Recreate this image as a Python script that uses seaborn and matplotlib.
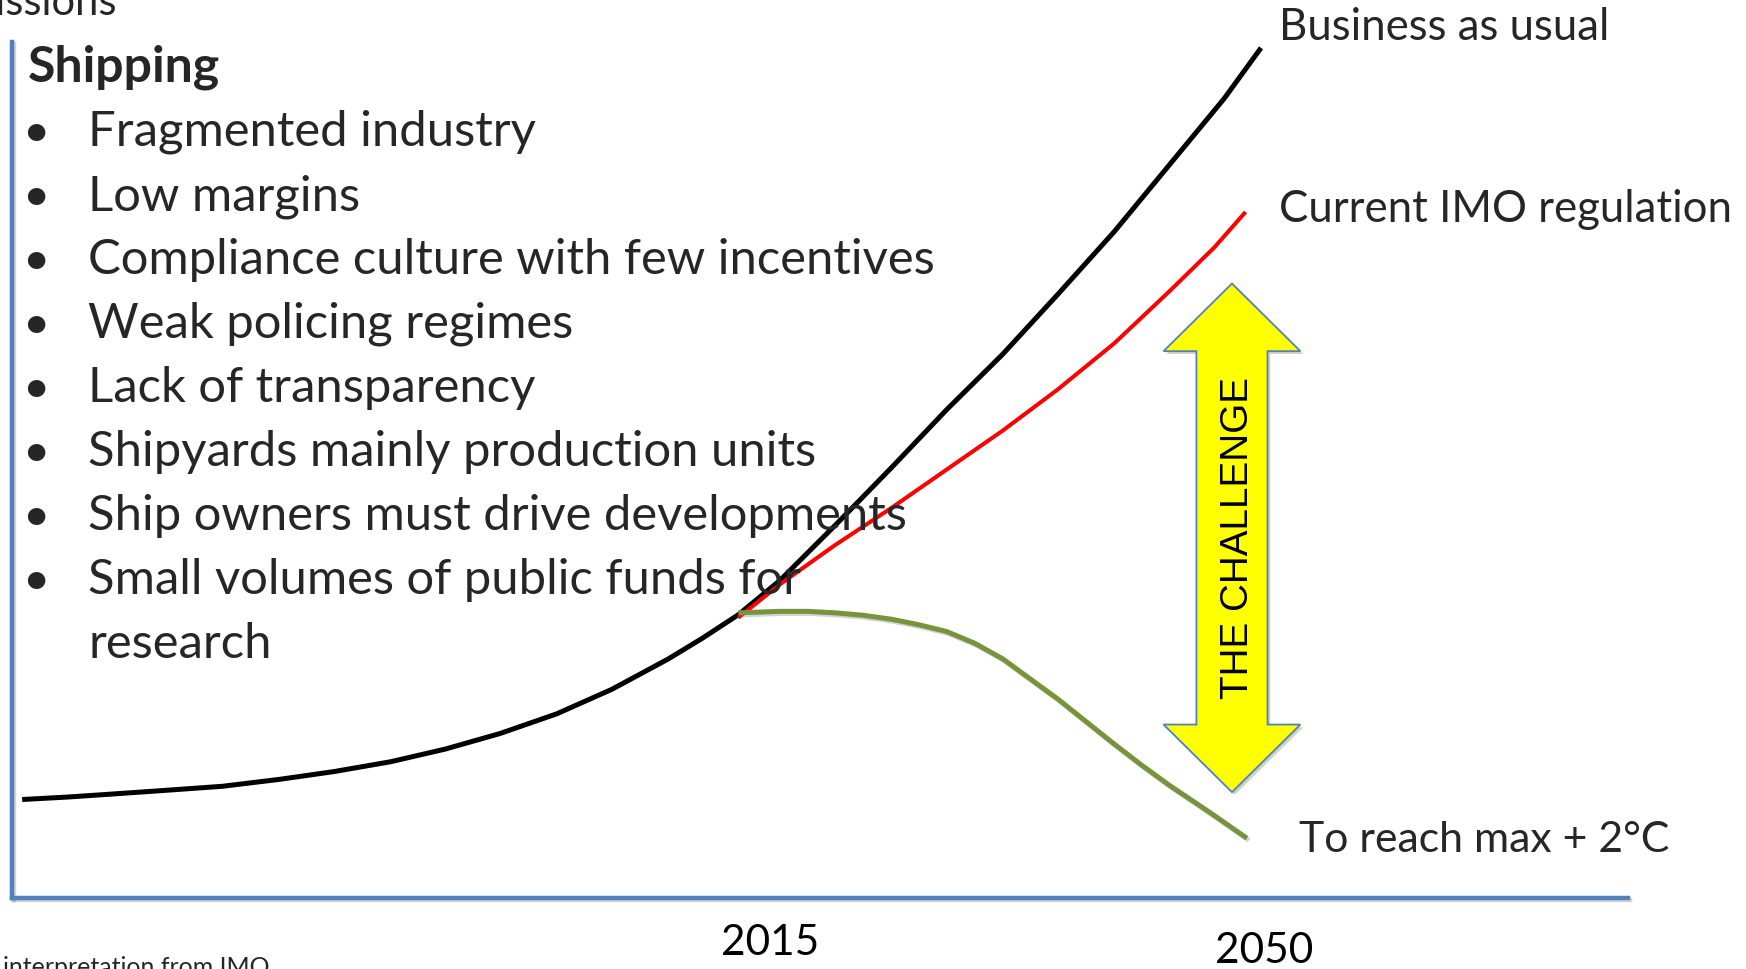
import numpy as np
import pandas as pd
import matplotlib
matplotlib.use('Agg')
import matplotlib.pyplot as plt
import matplotlib.patheffects as pe
from matplotlib.patches import Polygon
from matplotlib.transforms import ScaledTranslation
import seaborn as sns

# ==================== data (year, emissions index) ====================
bau_years = [1962.0, 1965.2, 1968.3, 1972.3, 1976.2, 1980.2, 1984.1, 1988.1, 1992.0, 1995.9,
             1999.9, 2003.8, 2007.8, 2010.2, 2012.75, 2015.7, 2019.6, 2023.6, 2027.5, 2031.5,
             2035.4, 2039.4, 2043.3, 2047.2, 2049.8]
bau = [10.05, 10.3, 10.6, 11.0, 11.4, 12.1, 12.9, 13.9, 15.2, 16.8,
       18.8, 21.3, 24.4, 26.5, 28.9, 32.4, 38.0, 43.9, 49.8, 55.5,
       61.6, 68.0, 74.8, 81.6, 86.75]

imo_years = [2012.75, 2015.7, 2019.6, 2023.6, 2027.5, 2031.5, 2035.4, 2039.4, 2043.3, 2046.5, 2048.7]
imo = [28.6, 32.0, 36.0, 39.8, 43.7, 47.7, 51.9, 56.6, 61.9, 66.4, 70.0]

two_deg_years = [2012.75, 2015.7, 2017.7, 2019.6, 2021.6, 2023.6, 2025.5, 2027.5, 2029.5,
                 2031.5, 2033.4, 2035.4, 2037.4, 2039.4, 2041.3, 2043.3, 2046.1, 2048.8]
two_deg = [29.1, 29.25, 29.25, 29.1, 28.85, 28.45, 27.9, 27.2, 26.0,
           24.4, 22.4, 20.3, 18.0, 15.7, 13.6, 11.5, 8.8, 6.1]

tick_years = [2015, 2050]
tick_labels = ['2015', '2050']

series_labels = ['Business as usual', 'Current IMO regulation', 'To reach max + 2°C']
series_colors = ['black', '#FF0000', '#77933C']

box_title = 'Shipping'
bullets = ['Fragmented industry',
           'Low margins',
           'Compliance culture with few incentives',
           'Weak policing regimes',
           'Lack of transparency',
           'Shipyards mainly production units',
           'Ship owners must drive developments',
           'Small volumes of public funds for\nresearch']

# arrow "THE CHALLENGE" (data units)
arrow_x = 2047.74
arrow_top, arrow_bottom = 62.7, 10.8
arrow_head_len = 6.9
arrow_shaft_half, arrow_head_half = 2.52, 4.85

# ==================== figure ====================
sns.set_theme(style='white')
plt.rcParams['font.family'] = ['Lato', 'DejaVu Sans']

W, H = 1746, 969
fig = plt.figure(figsize=(W / 100, H / 100), dpi=100)
ax = fig.add_axes([0, 0, 1, 1])
ax.set_xlim(1960.43, 2084.17)
ax.set_ylim(-7.245, 91.633)


def frac(x, y):
    # pixel position -> axes fraction
    return x / W, 1 - y / H


shadow = [pe.SimpleLineShadow(offset=(1.5, -1.5), shadow_color='gray', alpha=0.35), pe.Normal()]

sns.lineplot(x=bau_years, y=bau, ax=ax, color=series_colors[0], linewidth=3.6, legend=False)
sns.lineplot(x=imo_years, y=imo, ax=ax, color=series_colors[1], linewidth=2.9, legend=False)
sns.lineplot(x=two_deg_years, y=two_deg, ax=ax, color=series_colors[2], linewidth=3.6, legend=False)
ax.lines[2].set_path_effects(shadow)
for ln in ax.lines:
    ln.set_solid_capstyle('butt')
    ln.set_solid_joinstyle('round')

# axes as the blue frame
for s in ['top', 'right']:
    ax.spines[s].set_visible(False)
ax.spines['left'].set_position(('data', 1961.28))
ax.spines['left'].set_bounds(0, 87.35)
ax.spines['bottom'].set_position(('data', 0))
ax.spines['bottom'].set_bounds(1961.28, 2075.8)
for s in ['left', 'bottom']:
    ax.spines[s].set_color('#4F81BD')
    ax.spines[s].set_linewidth(3.2)
    ax.spines[s].set_path_effects(shadow)
ax.set_facecolor('white')

ax.set_yticks([])
ax.set_xticks(tick_years)
ax.set_xticklabels(tick_labels)
ax.tick_params(axis='x', length=0, pad=19, labelsize=30.5, labelcolor='black')
lbl = ax.get_xticklabels()[1]
lbl.set_transform(lbl.get_transform() + ScaledTranslation(0, -0.08, fig.dpi_scale_trans))

# double headed arrow
a_pts = [(arrow_x, arrow_top),
         (arrow_x + arrow_head_half, arrow_top - arrow_head_len),
         (arrow_x + arrow_shaft_half, arrow_top - arrow_head_len),
         (arrow_x + arrow_shaft_half, arrow_bottom + arrow_head_len),
         (arrow_x + arrow_head_half, arrow_bottom + arrow_head_len),
         (arrow_x, arrow_bottom),
         (arrow_x - arrow_head_half, arrow_bottom + arrow_head_len),
         (arrow_x - arrow_shaft_half, arrow_bottom + arrow_head_len),
         (arrow_x - arrow_shaft_half, arrow_top - arrow_head_len),
         (arrow_x - arrow_head_half, arrow_top - arrow_head_len)]
ax.add_patch(Polygon(a_pts, closed=True, facecolor='#FFFF00', edgecolor='#4F81BD', linewidth=1.3,
                     path_effects=[pe.SimplePatchShadow(offset=(2, -2), alpha=0.25), pe.Normal()]))
ax.text(arrow_x + 0.4, (arrow_top + arrow_bottom) / 2, 'THE CHALLENGE', rotation=90,
        ha='center', va='center', fontsize=27.8, family=['Liberation Sans', 'DejaVu Sans'], color='black')

# series labels
ax.text(*frac(1279, 40), series_labels[0], transform=ax.transAxes, fontsize=31.5, va='baseline')
ax.text(*frac(1279, 222), series_labels[1], transform=ax.transAxes, fontsize=31.5, va='baseline')
ax.text(*frac(1299, 852), series_labels[2], transform=ax.transAxes, fontsize=30.8, va='baseline')

# text box
ax.text(*frac(117, 15), 'Emissions', transform=ax.transAxes, fontsize=30, ha='right', va='baseline')
ax.text(*frac(28, 82), box_title, transform=ax.transAxes, fontsize=36, fontweight='bold', va='baseline')
y0, step = 146, 64
row = 0
for b in bullets:
    for j, part in enumerate(b.split('\n')):
        if j == 0:
            ax.text(*frac(36, y0 + row * step), '•', transform=ax.transAxes, fontsize=34,
                    ha='center', va='baseline')
        ax.text(*frac(88, y0 + row * step), part, transform=ax.transAxes, fontsize=35.3, va='baseline')
        row += 1

ax.text(*frac(3, 956), 'interpretation from IMO', transform=ax.transAxes, fontsize=18, va='top')

fig.savefig('out.png', dpi=100)
